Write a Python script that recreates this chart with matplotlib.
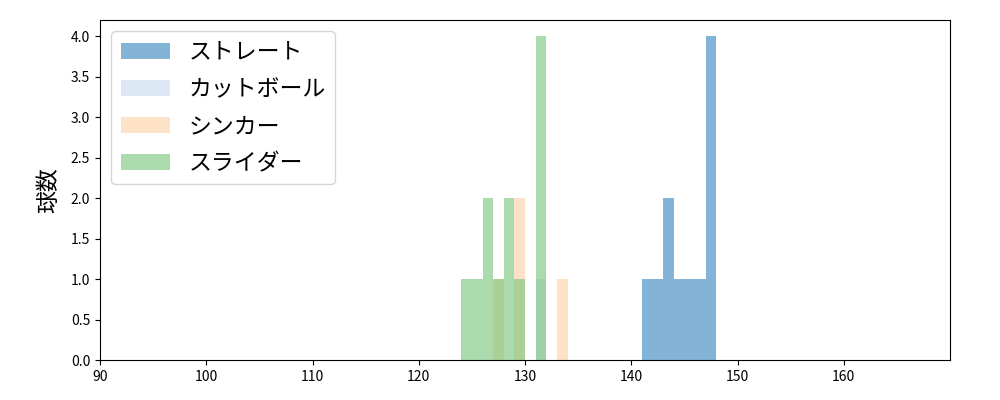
import matplotlib
matplotlib.use("Agg")
import matplotlib.pyplot as plt
import numpy as np

plt.rcParams['font.family'] = ['Noto Sans CJK JP', 'DejaVu Sans']

labels = ["ストレート", "カットボール", "シンカー", "スライダー"]
colors = ["#3182bd", "#c6dbef", "#fdd0a2", "#74c476"]

straight = [141.5, 142.5, 143.5, 143.5, 144.5, 145.5, 146.5, 147.5, 147.5, 147.5, 147.5]
cutball = [131.5]
sinker = [127.5, 129.5, 129.5, 133.5]
slider = [124.5, 125.5, 126.5, 126.5, 127.5, 128.5, 128.5, 129.5,
          131.5, 131.5, 131.5, 131.5]

data = [straight, cutball, sinker, slider]
bins = np.arange(90, 171, 1)

fig, ax = plt.subplots(figsize=(10, 4), dpi=100)
fig.subplots_adjust(left=0.1, right=0.95, bottom=0.1, top=0.95)

for d, lab, c in zip(data, labels, colors):
    ax.hist(d, bins=bins, color=c, alpha=0.6, label=lab)

ax.set_xlim(90, 170)
ax.set_xticks(np.arange(90, 170, 10))
ax.set_yticks(np.arange(0, 4.01, 0.5))
ax.set_ylabel("球数", fontsize=16.5, labelpad=8)
ax.legend(loc="upper left", fontsize=16.5, labelspacing=0.62, handlelength=2.15)

fig.savefig("out.png")
